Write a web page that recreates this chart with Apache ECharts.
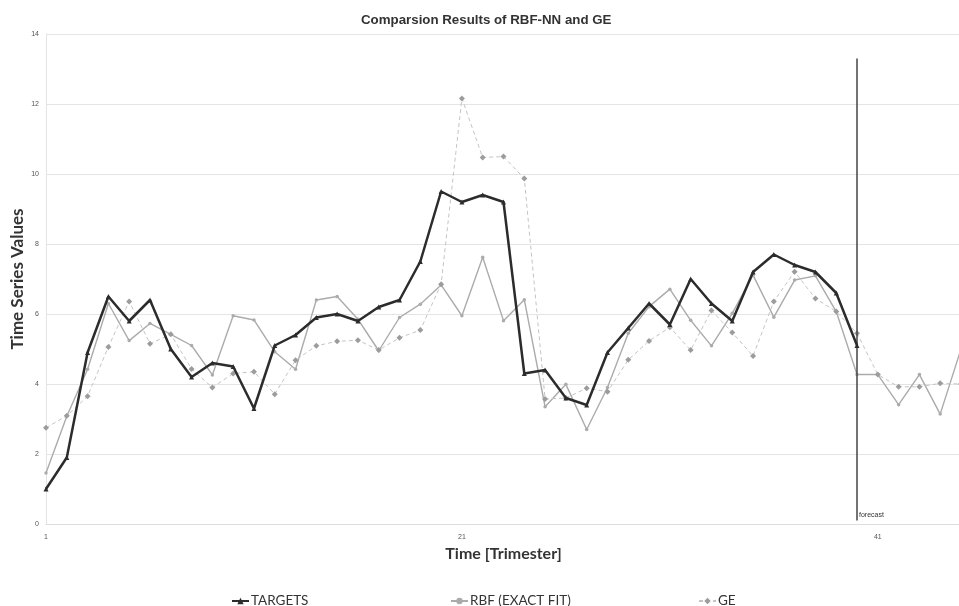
<!DOCTYPE html>
<html>
<head>
<meta charset="utf-8">
<script src="https://cdn.jsdelivr.net/npm/echarts@6/dist/echarts.min.js"></script>
<style>html,body{margin:0;padding:0;background:#fff;}#c{width:959px;height:606px;}</style>
</head>
<body>
<div id="c"></div>
<script>
const categories = Array.from({length: 45}, (_, i) => String(i + 1));
const targets = [1.0,1.9,4.9,6.5,5.8,6.4,5.0,4.2,4.6,4.5,3.3,5.1,5.4,5.9,6.0,5.8,6.2,6.4,7.5,9.5,9.2,9.4,9.2,4.3,4.4,3.6,3.4,4.9,5.6,6.3,5.7,7.0,6.3,5.8,7.2,7.7,7.4,7.2,6.6,5.1];
const rbf = [1.46,3.08,4.42,6.3,5.24,5.73,5.42,5.1,4.26,5.95,5.83,4.92,4.42,6.4,6.5,5.85,4.95,5.9,6.28,6.83,5.95,7.62,5.81,6.41,3.35,3.99,2.7,3.9,5.45,6.21,6.71,5.82,5.09,6.02,7.11,5.91,6.97,7.09,6.07,4.27,4.27,3.41,4.27,3.14,5.0];
const ge = [2.75,3.09,3.65,5.06,6.36,5.15,5.42,4.43,3.9,4.3,4.35,3.71,4.68,5.09,5.22,5.25,4.97,5.32,5.54,6.85,12.16,10.47,10.5,9.87,3.57,3.6,3.88,3.78,4.69,5.23,5.62,4.97,6.1,5.47,4.8,6.36,7.21,6.44,6.07,5.45,4.27,3.92,3.92,4.02,4.0];
const yTicks = {min: 0, max: 14, interval: 2};
const forecastAt = '40';

const chart = echarts.init(document.getElementById('c'));
const nameFont = 'Lato, "Open Sans", sans-serif';
const legendText = {fontFamily: nameFont, fontSize: 13.5, color: '#333', padding: [0,0,0,-3]};
chart.setOption({
  animation: false,
  backgroundColor: '#fff',
  title: {
    text: 'Comparsion Results of RBF-NN and GE',
    left: 356,
    top: 9,
    textStyle: {fontFamily: '"Liberation Sans", Arial, sans-serif', fontSize: 13.3, fontWeight: 'bold', color: '#333'}
  },
  legend: [
    {data: ['TARGETS'], left: 226, top: 589, itemWidth: 17, itemHeight: 8, textStyle: legendText},
    {data: ['RBF (EXACT FIT)'], left: 445, top: 589, itemWidth: 17, itemHeight: 8, textStyle: legendText},
    {data: ['GE'], left: 693, top: 589, itemWidth: 17, itemHeight: 8, textStyle: legendText}
  ],
  grid: {left: 46, top: 34, right: -2, bottom: 82, containLabel: false, outerBoundsMode: 'none'},
  xAxis: {
    type: 'category',
    data: categories,
    boundaryGap: false,
    name: 'Time [Trimester]',
    nameLocation: 'middle',
    nameGap: 17,
    nameTextStyle: {fontFamily: nameFont, fontSize: 16, fontWeight: 'bold', color: '#333'},
    axisLine: {lineStyle: {color: '#ddd'}},
    axisTick: {show: false},
    axisLabel: {interval: 19, fontSize: 7, color: '#555', margin: 10},
    splitLine: {show: false}
  },
  yAxis: {
    type: 'value',
    min: yTicks.min, max: yTicks.max, interval: yTicks.interval,
    name: 'Time Series Values',
    nameLocation: 'middle',
    nameGap: 20,
    nameMoveOverlap: false,
    nameTextStyle: {fontFamily: nameFont, fontSize: 17, fontWeight: 'bold', color: '#333'},
    axisLine: {show: true, lineStyle: {color: '#e4e4e4'}},
    axisTick: {show: false},
    axisLabel: {fontSize: 7, color: '#555', margin: 7},
    splitLine: {lineStyle: {color: '#e4e4e4', width: 1}}
  },
  series: [
    {
      name: 'TARGETS', type: 'line', data: targets, z: 5,
      symbol: 'triangle', symbolSize: 5, showAllSymbol: true,
      lineStyle: {color: '#2c2c2c', width: 2.5},
      itemStyle: {color: '#2c2c2c'},
      markLine: {
        silent: true, symbol: 'none', label: {show: false},
        lineStyle: {color: '#444', width: 1.5, type: 'solid'},
        data: [[{coord: [forecastAt, 0.1]}, {coord: [forecastAt, 13.3]}]]
      },
      markPoint: {
        silent: true, symbol: 'circle', symbolSize: 0,
        label: {show: true, position: 'right', distance: 2, formatter: 'forecast', fontSize: 7, color: '#333', fontFamily: '"Liberation Sans", Arial, sans-serif'},
        data: [{coord: [forecastAt, 0.25]}]
      }
    },
    {
      name: 'RBF (EXACT FIT)', type: 'line', data: rbf, z: 3,
      symbol: 'circle', symbolSize: 3.5, showAllSymbol: true,
      lineStyle: {color: '#ababab', width: 1.4},
      itemStyle: {color: '#ababab'}
    },
    {
      name: 'GE', type: 'line', data: ge, z: 4,
      symbol: 'diamond', symbolSize: 6, showAllSymbol: true,
      lineStyle: {color: '#c4c4c4', width: 1, type: [4, 3]},
      itemStyle: {color: '#9c9c9c'}
    }
  ]
});
</script>
</body>
</html>
